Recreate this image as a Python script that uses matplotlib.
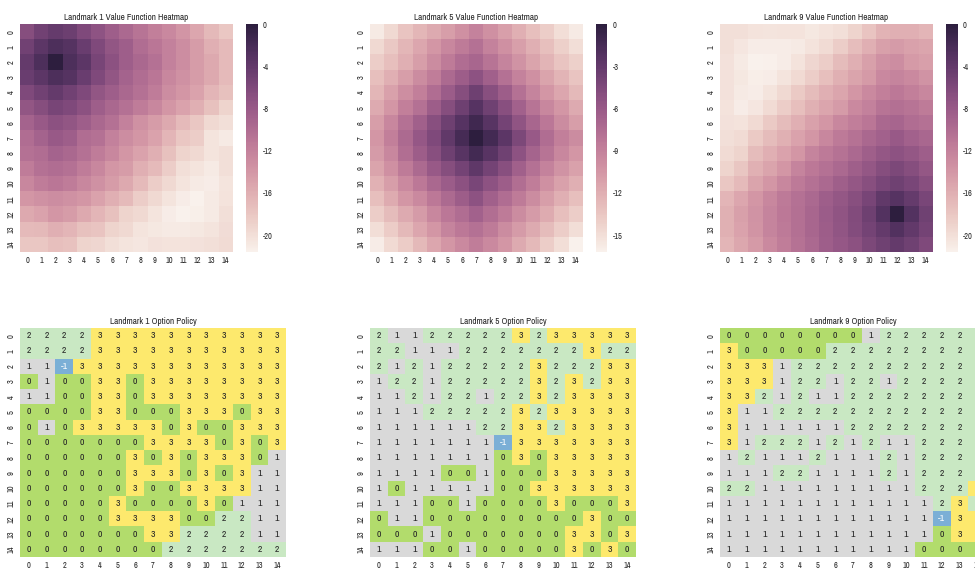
import numpy as np
import matplotlib
matplotlib.use("Agg")
import matplotlib.pyplot as plt
import seaborn as sns
from matplotlib.colors import ListedColormap
from matplotlib import font_manager

# ---------------------------------------------------------------- data
landmarks = [1, 5, 9]
grid_labels = list(range(15))

value_l1 = [
    [-6.5, -5.0, -4.2, -4.7, -6.0, -7.2, -8.5, -9.7, -10.8, -11.8, -12.7, -13.8, -15.3, -16.8, -18.0],
    [-5.0, -3.5, -2.5, -3.0, -4.5, -6.0, -7.5, -8.5, -10.0, -11.0, -12.0, -13.0, -14.5, -16.0, -17.0],
    [-4.0, -2.5, 0.0, -2.5, -3.5, -5.5, -7.0, -8.5, -9.5, -10.5, -12.0, -13.0, -14.5, -15.5, -17.0],
    [-4.5, -3.5, -2.5, -3.0, -4.5, -6.0, -7.5, -9.0, -10.0, -11.0, -12.5, -13.5, -14.5, -15.5, -17.0],
    [-6.0, -5.0, -4.0, -5.0, -6.0, -7.5, -8.5, -9.5, -10.5, -11.5, -13.0, -14.0, -15.0, -16.5, -17.5],
    [-7.5, -6.5, -5.5, -6.0, -7.0, -8.5, -9.5, -10.5, -11.5, -12.5, -14.0, -15.0, -16.0, -17.5, -19.0],
    [-9.0, -8.0, -7.0, -7.5, -8.5, -9.5, -10.5, -12.0, -13.5, -14.5, -15.5, -17.0, -18.0, -19.5, -20.0],
    [-10.0, -9.0, -8.0, -8.5, -10.0, -10.5, -12.0, -13.0, -14.0, -15.0, -16.5, -18.0, -18.5, -20.5, -21.0],
    [-10.5, -10.0, -9.0, -9.5, -10.5, -11.5, -12.5, -14.0, -15.0, -16.0, -17.5, -19.0, -19.5, -20.5, -20.0],
    [-11.5, -10.5, -10.0, -10.5, -11.5, -12.5, -14.0, -14.5, -16.0, -17.0, -18.5, -20.0, -20.5, -21.0, -20.0],
    [-12.5, -11.5, -11.0, -11.5, -12.5, -13.5, -14.5, -15.5, -17.0, -18.5, -19.5, -20.5, -21.0, -21.2, -20.5],
    [-14.0, -13.5, -13.0, -13.5, -14.0, -15.0, -16.0, -17.0, -18.5, -19.5, -20.5, -21.2, -21.6, -21.0, -20.3],
    [-15.5, -15.0, -14.0, -14.5, -15.5, -16.5, -17.5, -19.0, -19.5, -20.5, -21.2, -21.6, -21.4, -21.0, -20.0],
    [-17.0, -16.8, -16.0, -16.5, -17.5, -17.8, -19.0, -19.5, -20.5, -20.7, -21.0, -21.0, -20.7, -20.5, -19.8],
    [-18.0, -18.0, -17.3, -17.6, -19.0, -19.3, -20.0, -20.5, -20.6, -20.2, -20.3, -20.4, -20.2, -20.0, -19.7],
]

value_l5 = [
    [-15.7, -14.6, -13.4, -12.5, -11.7, -10.9, -10.0, -9.1, -10.0, -11.0, -12.0, -13.0, -13.9, -14.9, -15.7],
    [-14.6, -13.6, -12.5, -11.5, -10.4, -9.4, -8.6, -7.9, -9.1, -10.0, -11.0, -12.0, -13.0, -14.1, -14.9],
    [-13.9, -13.0, -12.0, -10.9, -9.7, -8.6, -7.5, -7.0, -8.1, -9.2, -10.2, -11.3, -12.3, -13.3, -14.1],
    [-13.0, -12.0, -10.9, -9.7, -8.7, -7.3, -6.3, -5.3, -6.5, -7.8, -9.1, -10.0, -11.3, -12.3, -13.3],
    [-12.5, -11.2, -9.9, -8.9, -7.5, -6.2, -4.9, -3.6, -5.0, -6.3, -7.8, -9.2, -10.4, -11.5, -12.6],
    [-11.7, -10.4, -8.9, -7.8, -6.3, -4.9, -3.6, -2.3, -3.7, -5.0, -6.6, -8.1, -9.4, -10.5, -11.7],
    [-10.9, -9.4, -7.8, -6.5, -5.0, -3.6, -2.3, -1.1, -2.4, -3.9, -5.5, -7.0, -8.3, -9.7, -10.9],
    [-10.4, -8.9, -7.3, -5.8, -4.5, -2.9, -1.5, 0.0, -1.3, -2.6, -4.4, -6.0, -7.5, -8.9, -9.7],
    [-10.7, -9.4, -7.6, -6.3, -5.0, -3.6, -2.4, -1.3, -2.4, -3.7, -5.3, -6.8, -8.1, -9.4, -10.4],
    [-11.3, -10.0, -8.6, -7.3, -6.0, -4.9, -3.9, -2.8, -3.9, -5.0, -6.5, -7.8, -9.1, -10.2, -11.2],
    [-12.2, -10.9, -9.6, -8.4, -7.1, -6.2, -5.2, -4.2, -5.3, -6.3, -7.6, -8.7, -10.0, -11.2, -12.0],
    [-13.0, -11.8, -10.5, -9.6, -8.4, -7.3, -6.3, -5.3, -6.5, -7.5, -8.6, -9.7, -10.9, -12.0, -13.0],
    [-13.9, -12.8, -11.7, -10.7, -9.4, -8.3, -7.5, -6.6, -7.6, -8.6, -9.7, -10.7, -11.8, -13.0, -13.9],
    [-14.9, -13.8, -12.6, -11.5, -10.4, -9.2, -8.4, -7.8, -8.6, -9.7, -10.7, -11.7, -12.8, -13.9, -14.9],
    [-15.9, -14.7, -13.8, -12.6, -11.5, -10.5, -9.6, -8.7, -9.6, -10.5, -11.7, -12.6, -13.9, -14.9, -16.2],
]

value_l9 = [
    [-20.0, -20.0, -20.3, -20.5, -20.4, -20.3, -20.7, -20.4, -20.0, -19.0, -17.8, -16.3, -16.1, -16.0, -16.5],
    [-20.0, -20.6, -21.1, -21.2, -21.1, -21.0, -20.3, -19.7, -18.5, -17.2, -16.0, -14.7, -14.4, -14.9, -15.2],
    [-20.2, -21.0, -21.6, -21.5, -21.1, -20.3, -19.3, -18.5, -17.1, -16.0, -14.7, -13.5, -13.0, -14.2, -14.6],
    [-20.2, -20.7, -21.3, -21.1, -20.5, -19.6, -18.5, -17.3, -16.2, -15.1, -14.2, -12.7, -12.3, -12.8, -13.6],
    [-20.2, -21.0, -21.1, -20.5, -19.5, -18.3, -17.1, -16.0, -15.2, -14.0, -12.8, -11.8, -11.2, -11.8, -12.5],
    [-20.4, -21.2, -20.6, -19.7, -18.5, -17.3, -16.2, -15.2, -14.3, -12.8, -12.0, -10.8, -10.3, -10.8, -11.4],
    [-20.2, -20.3, -19.6, -18.3, -17.1, -16.0, -14.9, -13.9, -12.5, -11.7, -11.0, -9.5, -9.2, -10.0, -10.5],
    [-20.0, -19.7, -18.2, -17.1, -16.2, -15.0, -13.9, -12.5, -11.3, -10.6, -9.5, -8.7, -7.9, -8.8, -9.4],
    [-19.7, -19.0, -17.1, -16.0, -15.0, -13.9, -12.3, -11.3, -10.6, -9.6, -8.6, -7.6, -7.1, -7.6, -8.5],
    [-19.0, -17.9, -16.2, -15.1, -13.9, -12.3, -11.2, -10.5, -9.6, -8.6, -7.6, -6.5, -5.9, -6.5, -7.6],
    [-18.0, -16.9, -15.1, -14.0, -12.5, -11.3, -10.5, -9.6, -8.6, -7.6, -6.7, -5.6, -4.9, -5.6, -6.7],
    [-16.5, -15.3, -13.9, -12.5, -11.3, -10.5, -9.7, -8.5, -7.6, -6.7, -5.5, -3.8, -3.1, -4.2, -5.6],
    [-16.2, -14.7, -13.6, -12.3, -11.2, -10.3, -9.3, -8.2, -7.3, -6.2, -4.8, -2.9, 0.0, -2.9, -4.9],
    [-16.2, -15.0, -13.7, -12.3, -11.3, -10.3, -9.3, -8.4, -7.4, -6.4, -5.2, -4.0, -2.8, -3.9, -5.2],
    [-16.5, -15.4, -14.2, -12.8, -11.6, -10.6, -9.6, -8.5, -7.7, -7.0, -5.8, -4.9, -4.0, -4.9, -6.0],
]

policy_l1 = [
    [2, 2, 2, 2, 3, 3, 3, 3, 3, 3, 3, 3, 3, 3, 3],
    [2, 2, 2, 2, 3, 3, 3, 3, 3, 3, 3, 3, 3, 3, 3],
    [1, 1, -1, 3, 3, 3, 3, 3, 3, 3, 3, 3, 3, 3, 3],
    [0, 1, 0, 0, 3, 3, 0, 3, 3, 3, 3, 3, 3, 3, 3],
    [1, 1, 0, 0, 3, 3, 0, 3, 3, 3, 3, 3, 3, 3, 3],
    [0, 0, 0, 0, 3, 3, 0, 0, 0, 3, 3, 3, 0, 3, 3],
    [0, 1, 0, 3, 3, 3, 3, 3, 0, 3, 0, 0, 3, 3, 3],
    [0, 0, 0, 0, 0, 0, 0, 3, 3, 3, 3, 0, 3, 0, 3],
    [0, 0, 0, 0, 0, 0, 3, 0, 3, 0, 3, 3, 3, 0, 1],
    [0, 0, 0, 0, 0, 0, 3, 3, 3, 0, 3, 0, 3, 1, 1],
    [0, 0, 0, 0, 0, 0, 3, 0, 0, 3, 3, 3, 3, 1, 1],
    [0, 0, 0, 0, 0, 3, 0, 0, 0, 0, 3, 0, 1, 1, 1],
    [0, 0, 0, 0, 0, 3, 3, 3, 3, 0, 0, 2, 2, 1, 1],
    [0, 0, 0, 0, 0, 0, 0, 3, 3, 2, 2, 2, 2, 1, 1],
    [0, 0, 0, 0, 0, 0, 0, 0, 2, 2, 2, 2, 2, 2, 2],
]

policy_l5 = [
    [2, 1, 1, 2, 2, 2, 2, 2, 3, 2, 3, 3, 3, 3, 3],
    [2, 2, 1, 1, 1, 2, 2, 2, 2, 2, 2, 2, 3, 2, 2],
    [2, 1, 2, 1, 2, 2, 2, 2, 2, 3, 2, 2, 2, 3, 3],
    [1, 2, 2, 1, 2, 2, 2, 2, 2, 3, 2, 3, 2, 3, 3],
    [1, 1, 2, 1, 2, 2, 1, 2, 2, 3, 2, 3, 3, 3, 3],
    [1, 1, 1, 2, 2, 2, 2, 2, 3, 2, 3, 3, 3, 3, 3],
    [1, 1, 1, 1, 1, 1, 2, 2, 3, 3, 2, 3, 3, 3, 3],
    [1, 1, 1, 1, 1, 1, 1, -1, 3, 3, 3, 3, 3, 3, 3],
    [1, 1, 1, 1, 1, 1, 1, 0, 3, 0, 3, 3, 3, 3, 3],
    [1, 1, 1, 1, 0, 0, 1, 0, 0, 0, 3, 3, 3, 3, 3],
    [1, 0, 1, 1, 1, 1, 1, 0, 0, 3, 3, 3, 3, 3, 3],
    [1, 1, 1, 0, 0, 1, 0, 0, 0, 0, 3, 0, 0, 0, 3],
    [0, 1, 1, 0, 0, 0, 0, 0, 0, 0, 0, 0, 3, 0, 0],
    [0, 0, 0, 1, 0, 0, 0, 0, 0, 0, 0, 3, 3, 0, 3],
    [1, 1, 1, 0, 0, 1, 0, 0, 0, 0, 0, 3, 0, 3, 0],
]

policy_l9 = [
    [0, 0, 0, 0, 0, 0, 0, 0, 1, 2, 2, 2, 2, 2, 2],
    [3, 0, 0, 0, 0, 0, 2, 2, 2, 2, 2, 2, 2, 2, 2],
    [3, 3, 3, 1, 2, 2, 2, 2, 2, 2, 2, 2, 2, 2, 2],
    [3, 3, 3, 1, 2, 2, 1, 2, 2, 1, 2, 2, 2, 2, 2],
    [3, 3, 2, 1, 2, 1, 1, 2, 2, 2, 2, 2, 2, 2, 2],
    [3, 1, 1, 2, 2, 2, 2, 2, 2, 2, 2, 2, 2, 2, 2],
    [3, 1, 1, 1, 1, 1, 1, 2, 2, 2, 2, 2, 2, 2, 2],
    [3, 1, 2, 2, 2, 1, 2, 1, 2, 1, 1, 2, 2, 2, 2],
    [1, 2, 1, 1, 1, 2, 1, 1, 1, 2, 1, 2, 2, 2, 2],
    [1, 1, 1, 2, 2, 1, 1, 1, 1, 2, 1, 2, 2, 2, 2],
    [2, 2, 1, 1, 1, 1, 1, 1, 1, 1, 1, 2, 2, 2, 3],
    [1, 1, 1, 1, 1, 1, 1, 1, 1, 1, 1, 1, 2, 3, 2],
    [1, 1, 1, 1, 1, 1, 1, 1, 1, 1, 1, 1, -1, 3, 3],
    [1, 1, 1, 1, 1, 1, 1, 1, 1, 1, 1, 1, 0, 3, 3],
    [1, 1, 1, 1, 1, 1, 1, 1, 1, 1, 1, 0, 0, 0, 0],
]

value_maps = [value_l1, value_l5, value_l9]
policy_maps = [policy_l1, policy_l5, policy_l9]
colorbar_ticks = [
    [0, -4, -8, -12, -16, -20],
    [0, -3, -6, -9, -12, -15],
    [0, -4, -8, -12, -16, -20],
]

# option index -1 .. 3
option_colors = ["#7bafd6", "#b2dc6c", "#d9d9d9", "#c9e8c3", "#fde96d"]

# ---------------------------------------------------------------- style
# prefer a narrow sans face for the small labels
font_entries = font_manager.fontManager.ttflist
available = {f.name for f in font_entries}
narrow_names = [f.name for f in font_entries
                if any(k in f.name for k in ("Narrow", "Condensed"))]
stretch = "normal"
if "Liberation Sans Narrow" in available:
    base_font = "Liberation Sans Narrow"
elif narrow_names:
    base_font = sorted(narrow_names)[0]
else:
    condensed = [f.name for f in font_entries
                 if str(f.stretch) in ("condensed", "semi-condensed")]
    if condensed:
        base_font = sorted(condensed)[0]
        stretch = "condensed"
    else:
        base_font = "Liberation Sans"
plt.rcParams["font.family"] = [base_font, "DejaVu Sans"]
plt.rcParams["font.stretch"] = stretch
plt.rcParams["axes.unicode_minus"] = False
narrow = base_font != "Liberation Sans"
title_size = 6.6 if narrow else 6.2
label_size = 6 if narrow else 5.6
annot_size = 7 if narrow else 6.5

value_cmap = sns.cubehelix_palette(light=.95, as_cmap=True)
option_cmap = ListedColormap(option_colors)

W, H = 975, 570
fig = plt.figure(figsize=(W / 100, H / 100), dpi=100)
fig.patch.set_facecolor("white")


def axes_px(x0, y0, w, h):
    return fig.add_axes([x0 / W, 1 - (y0 + h) / H, w / W, h / H])


def style_ticks(ax):
    ax.tick_params(length=0, labelsize=label_size, colors="#262626", pad=3)
    plt.setp(ax.get_yticklabels(), rotation=90, va="center")
    plt.setp(ax.get_xticklabels(), rotation=0)


col_left = [20, 370, 720]
panel_w = 266

for i, lm in enumerate(landmarks):
    # value function heatmap
    ax = axes_px(col_left[i], 24, panel_w, 228)
    sns.heatmap(np.array(value_maps[i]), ax=ax, cmap=value_cmap,
                xticklabels=grid_labels, yticklabels=grid_labels,
                cbar_kws={"ticks": colorbar_ticks[i]})
    ax.set_title(f"Landmark {lm} Value Function Heatmap", fontsize=title_size, pad=3,
                 color="#262626")
    style_ticks(ax)
    cbar = ax.collections[0].colorbar
    cbar.outline.set_visible(False)
    cbar.ax.tick_params(length=0, labelsize=label_size, colors="#262626", pad=4)

    # option policy grid
    ax = axes_px(col_left[i], 328, panel_w, 229)
    sns.heatmap(np.array(policy_maps[i]), ax=ax, cmap=option_cmap, vmin=-1.5, vmax=3.5,
                cbar=False, annot=True, fmt="d", annot_kws={"fontsize": annot_size},
                xticklabels=grid_labels, yticklabels=grid_labels)
    ax.set_title(f"Landmark {lm} Option Policy", fontsize=title_size, pad=3,
                 color="#262626")
    style_ticks(ax)

fig.savefig("out.png", dpi=100)
